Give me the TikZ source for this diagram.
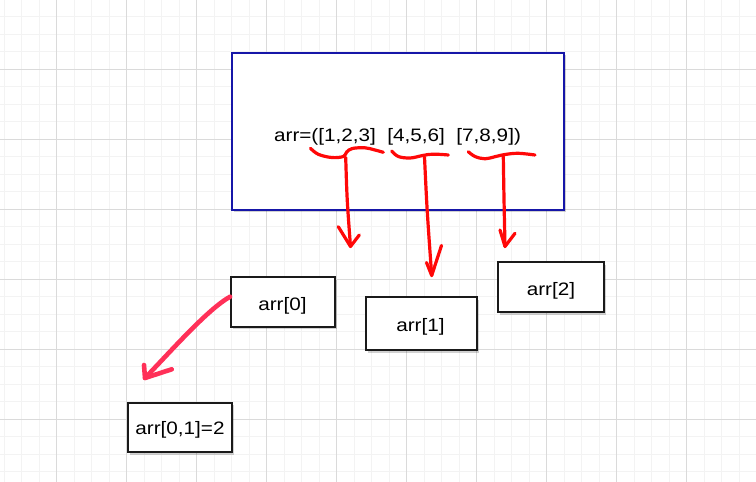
\documentclass[tikz,border=0pt]{standalone}
\usepackage{fontspec}
\usepackage{graphicx}
\setmainfont{Liberation Sans}
\usetikzlibrary{shadows}
\definecolor{gridminor}{RGB}{243,243,243}
\definecolor{gridmajor}{RGB}{218,218,218}
\definecolor{boxblue}{RGB}{22,22,168}
\definecolor{boxblack}{RGB}{26,26,26}
\definecolor{penred}{RGB}{255,8,8}
\definecolor{penpink}{RGB}{255,48,88}
\newcommand{\dtxt}[1]{\fontsize{18}{20}\selectfont\scalebox{1.15}[1]{#1}}
\tikzset{
  shadowed/.style={drop shadow={shadow xshift=2pt, shadow yshift=-2.5pt, opacity=0.18, fill=black}},
  mainbox/.style={draw=boxblue, line width=1.8pt, fill=white, shadowed, inner sep=0pt},
  elembox/.style={draw=boxblack, line width=1.8pt, fill=white, shadowed, inner sep=0pt},
  lbl/.style={anchor=base, inner sep=0pt, text=black},
  redpen/.style={draw=penred, line width=3.2pt, line cap=round, line join=round},
  pinkpen/.style={draw=penpink, line width=4.6pt, line cap=round, line join=round},
}
\begin{document}
\begin{tikzpicture}[x=1pt,y=-1pt]
\useasboundingbox (0,0) rectangle (756,482);
\fill[white] (0,0) rectangle (756,482);
% grid
\begin{scope}
\clip (0,0) rectangle (756,482);
\foreach \k in {0,...,43} {
  \draw[gridminor, line width=1pt] ({4.2+17.5*\k},0) -- ({4.2+17.5*\k},482);
}
\foreach \k in {1,...,27} {
  \draw[gridminor, line width=1pt] (0,{-0.7+17.5*\k}) -- (756,{-0.7+17.5*\k});
}
\foreach \k in {0,...,9} {
  \draw[gridmajor, line width=1pt] ({56.7+70*\k},0) -- ({56.7+70*\k},482);
}
\foreach \k in {0,...,6} {
  \draw[gridmajor, line width=1pt] (0,{69.3+70*\k}) -- (756,{69.3+70*\k});
}
\end{scope}

% main box
\node[mainbox, minimum width=332pt, minimum height=157pt] (main) at (397.85,131.4) {};
\node[lbl] (maintxt) at (397.5,141.7) {\dtxt{arr=([1,2,3]\ \ [4,5,6]\ \ [7,8,9])}};

% element boxes
\node[elembox, minimum width=104pt, minimum height=49.4pt] (a0) at (283,302) {};
\node[lbl] (a0t) at (282.5,310) {\dtxt{arr[0]}};
\node[elembox, minimum width=111pt, minimum height=52.7pt] (a1) at (421.5,323.65) {};
\node[lbl] (a1t) at (420.5,331.7) {\dtxt{arr[1]}};
\node[elembox, minimum width=105.4pt, minimum height=50.3pt] (a2) at (551,287.15) {};
\node[lbl] (a2t) at (551,295) {\dtxt{arr[2]}};
\node[elembox, minimum width=103.4pt, minimum height=49.6pt] (a01) at (180,427.5) {};
\node[lbl] (a01t) at (180,434) {\dtxt{arr[0,1]=2}};

% hand-drawn braces
\draw[redpen] plot[smooth, tension=0.6] coordinates {(310.5,148.3) (318.3,154.3) (331.7,157.5) (343.3,156.5) (346.7,152) (352.3,148.5) (365,147.8) (375,150) (383.3,152.3)};
\draw[redpen] plot[smooth, tension=0.6] coordinates {(391.7,151) (398.3,156.5) (410,158) (421.7,155.7) (428.3,154.5) (438.3,154.3) (448.3,155)};
\draw[redpen] plot[smooth, tension=0.6] coordinates {(468.3,151.7) (475,156.5) (485,158.8) (495,156.7) (505,154.5) (518.3,153.3) (535,155)};

% brace arrows
\coordinate (b1) at (345.7,157.5);
\coordinate (t1) at (350.5,246.5);
\coordinate (b2) at (424.5,157);
\coordinate (t2) at (431.7,275.5);
\coordinate (b3) at (503.3,156.5);
\coordinate (t3) at (505,246.5);
\draw[redpen] (b1) .. controls (347,200) .. (t1);
\draw[redpen] (338.3,226.7) -- (t1) -- (359.3,235);
\draw[redpen] (b2) .. controls (427,210) .. (t2);
\draw[redpen] (426.5,262.5) -- (t2) -- (441.5,245.5);
\draw[redpen] (b3) .. controls (504,200) .. (t3);
\draw[redpen] (500,230) -- (t3) -- (515,233.3);

% pink arrow from arr[0]
\coordinate (p0) at ([yshift=5.3pt]a0.west);
\coordinate (pt) at (145,378);
\draw[pinkpen] (p0) .. controls (208,309) and (172,350) .. (pt);
\draw[pinkpen] (144,365) -- (pt) -- (171.7,369.3);
\end{tikzpicture}
\end{document}
